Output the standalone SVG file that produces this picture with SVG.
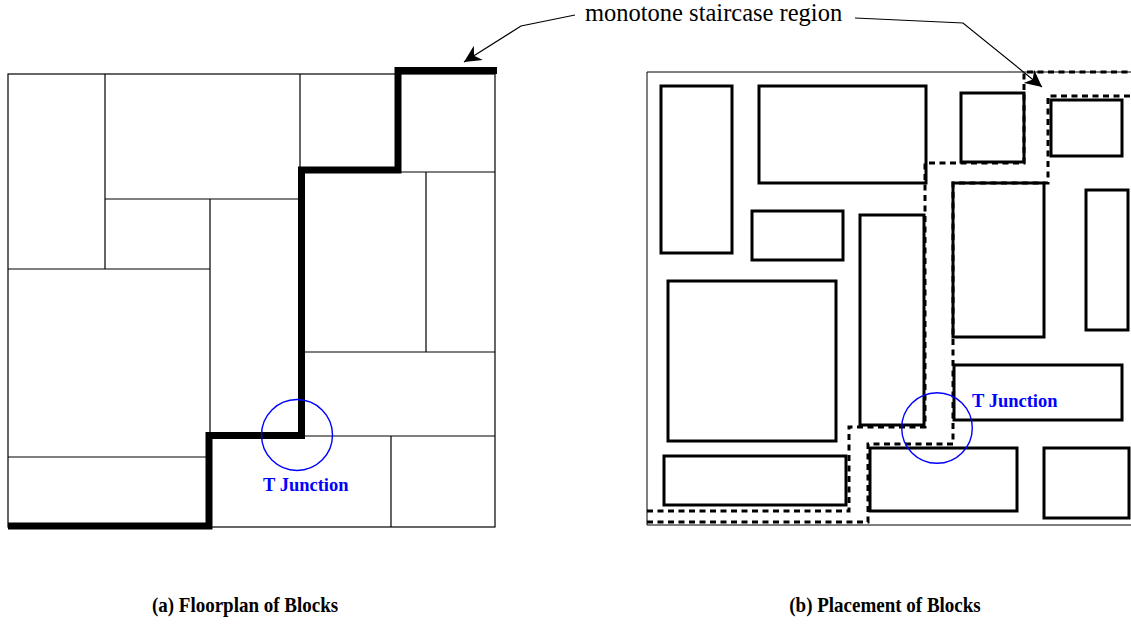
<svg xmlns="http://www.w3.org/2000/svg" width="1131" height="624" viewBox="0 0 1131 624">
<style>
.thin{fill:none;stroke:#000;stroke-width:1.2}
.outer{fill:none;stroke:#000;stroke-width:1}
.stair{fill:none;stroke:#000;stroke-width:7;stroke-linejoin:miter;stroke-linecap:butt}
.blk{fill:none;stroke:#000;stroke-width:3}
.dash{fill:none;stroke:#000;stroke-width:3;stroke-dasharray:6 4.5}
.tj{fill:none;stroke:#0000ff;stroke-width:1.4}
.tjt{font-family:"Liberation Serif",serif;font-weight:bold;font-size:18.5px;fill:#0000ff}
.lbl{font-family:"Liberation Serif",serif;font-size:24.5px;fill:#000}
.cap{font-family:"Liberation Serif",serif;font-weight:bold;font-size:19px;fill:#000}
.arr{fill:none;stroke:#000;stroke-width:1.2}
</style>
<defs>
<marker id="ah" viewBox="0 0 10 10" refX="10" refY="5" markerWidth="17" markerHeight="17" markerUnits="userSpaceOnUse" orient="auto">
<path d="M0,0 L10,5 L0,10 L3,5 Z" fill="#000"/>
</marker>
</defs>
<rect width="1131" height="624" fill="#fff"/>

<g id="floorplan">
<rect class="thin" x="8" y="74" width="487" height="453"/>
<path class="thin" d="M105,74V269 M105,199H300 M210,199V436 M8,269H210 M300,74V199 M398,172H495 M426,172V352 M302,352H495 M302,436H495 M391,436V527 M8,457H210"/>
<polyline id="staircase-a" class="stair" points="8,526 209,526 209,435.5 301.5,435.5 301.5,170 398,170 398,70.5 497,70.5"/>
<circle class="tj" cx="297" cy="435" r="35.5"/>
<text class="tjt" x="263" y="491">T Junction</text>
</g>

<g id="placement">
<path class="outer" d="M647,72H1131 M647,72V525 M647,525H1131"/>
<rect class="blk" x="661" y="86" width="71" height="167"/>
<rect class="blk" x="759" y="86" width="167" height="97"/>
<rect class="blk" x="752" y="211" width="91" height="49"/>
<rect class="blk" x="860" y="215" width="64" height="210"/>
<rect class="blk" x="668" y="281" width="168" height="160"/>
<rect class="blk" x="664" y="456" width="182" height="49"/>
<rect class="blk" x="961" y="93" width="63" height="69"/>
<rect class="blk" x="1051" y="100" width="71" height="56"/>
<rect class="blk" x="953" y="183" width="91" height="154"/>
<rect class="blk" x="1086" y="190" width="42" height="140"/>
<rect class="blk" x="954" y="365" width="168" height="55"/>
<rect class="blk" x="870" y="448" width="147" height="63"/>
<rect class="blk" x="1044" y="448" width="85" height="70"/>
<polyline class="dash" points="647,511 849,511 849,427 925,427 925,163 1024,163 1024,72 1131,72"/>
<polyline class="dash" points="647,522 868,522 868,444 953,444 953,183 1048,183 1048,96 1131,96"/>
<circle class="tj" cx="937" cy="428" r="35.3"/>
<text class="tjt" x="972" y="407">T Junction</text>
</g>

<g id="connectors">
<polyline class="arr" points="575,15 521,26 464,62" marker-end="url(#ah)"/>
<polyline class="arr" points="855,18 963,23 1042,87" marker-end="url(#ah)"/>
</g>

<g id="labels">
<text class="lbl" x="585" y="21">monotone staircase region</text>
<text class="cap" transform="translate(245,612) scale(1,1.12)" text-anchor="middle">(a) Floorplan of Blocks</text>
<text class="cap" transform="translate(885,612) scale(1,1.12)" text-anchor="middle">(b) Placement of Blocks</text>
</g>
</svg>
